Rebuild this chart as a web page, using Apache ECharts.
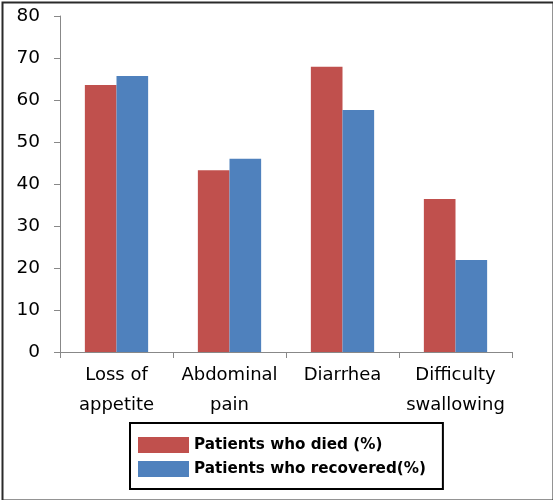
<!DOCTYPE html>
<html>
<head>
<meta charset="utf-8">
<script src="https://cdn.jsdelivr.net/npm/echarts@6/dist/echarts.min.js"></script>
<style>
html,body{margin:0;padding:0;background:#fff;}
#chart{width:553px;height:500px;}
</style>
</head>
<body>
<div id="chart"></div>
<script>
const categories = ['Loss of\nappetite', 'Abdominal\npain', 'Diarrhea', 'Difficulty\nswallowing'];
const seriesNames = ['Patients who died (%)', 'Patients who recovered(%)'];
const died = [63.6, 43.3, 67.9, 36.4];
const recovered = [65.7, 46.0, 57.6, 21.9];
const yTicks = { min: 0, max: 80, interval: 10 };

const chart = echarts.init(document.getElementById('chart'), null, { renderer: 'canvas' });
chart.setOption({
  animation: false,
  backgroundColor: '#fff',
  graphic: [{
    type: 'rect', left: 0, top: 0, silent: true,
    shape: { x: 1, y: 1, width: 551, height: 498 },
    style: { fill: 'none', stroke: '#2a2a2a', lineWidth: 2 }
  }],
  grid: { left: 60, right: 41, top: 16, bottom: 148 },
  xAxis: {
    type: 'category',
    data: categories,
    axisLine: { lineStyle: { color: '#888', width: 1 } },
    axisTick: { show: true, length: 6, lineStyle: { color: '#888' } },
    axisLabel: { color: '#000', fontFamily: 'DejaVu Sans', fontSize: 18, lineHeight: 30, margin: 8, interval: 0 }
  },
  yAxis: {
    type: 'value',
    min: yTicks.min, max: yTicks.max, interval: yTicks.interval,
    axisLine: { show: true, lineStyle: { color: '#888', width: 1 } },
    axisTick: { show: true, length: 6, lineStyle: { color: '#888' } },
    splitLine: { show: false },
    axisLabel: { color: '#000', fontFamily: 'DejaVu Sans', fontSize: 18.5, margin: 20 }
  },
  legend: {
    orient: 'vertical',
    left: 130, top: 423,
    data: seriesNames,
    icon: 'rect',
    itemWidth: 51, itemHeight: 16, itemGap: 8,
    borderColor: '#000', borderWidth: 2,
    padding: [14, 17, 12, 8],
    textStyle: { color: '#000', fontFamily: 'DejaVu Sans', fontWeight: 'bold', fontSize: 15.2 }
  },
  series: [
    { name: seriesNames[0], type: 'bar', data: died, barGap: '0%', barCategoryGap: '44%', itemStyle: { color: '#C0504D' } },
    { name: seriesNames[1], type: 'bar', data: recovered, itemStyle: { color: '#4F81BD' } }
  ]
});
</script>
</body>
</html>
